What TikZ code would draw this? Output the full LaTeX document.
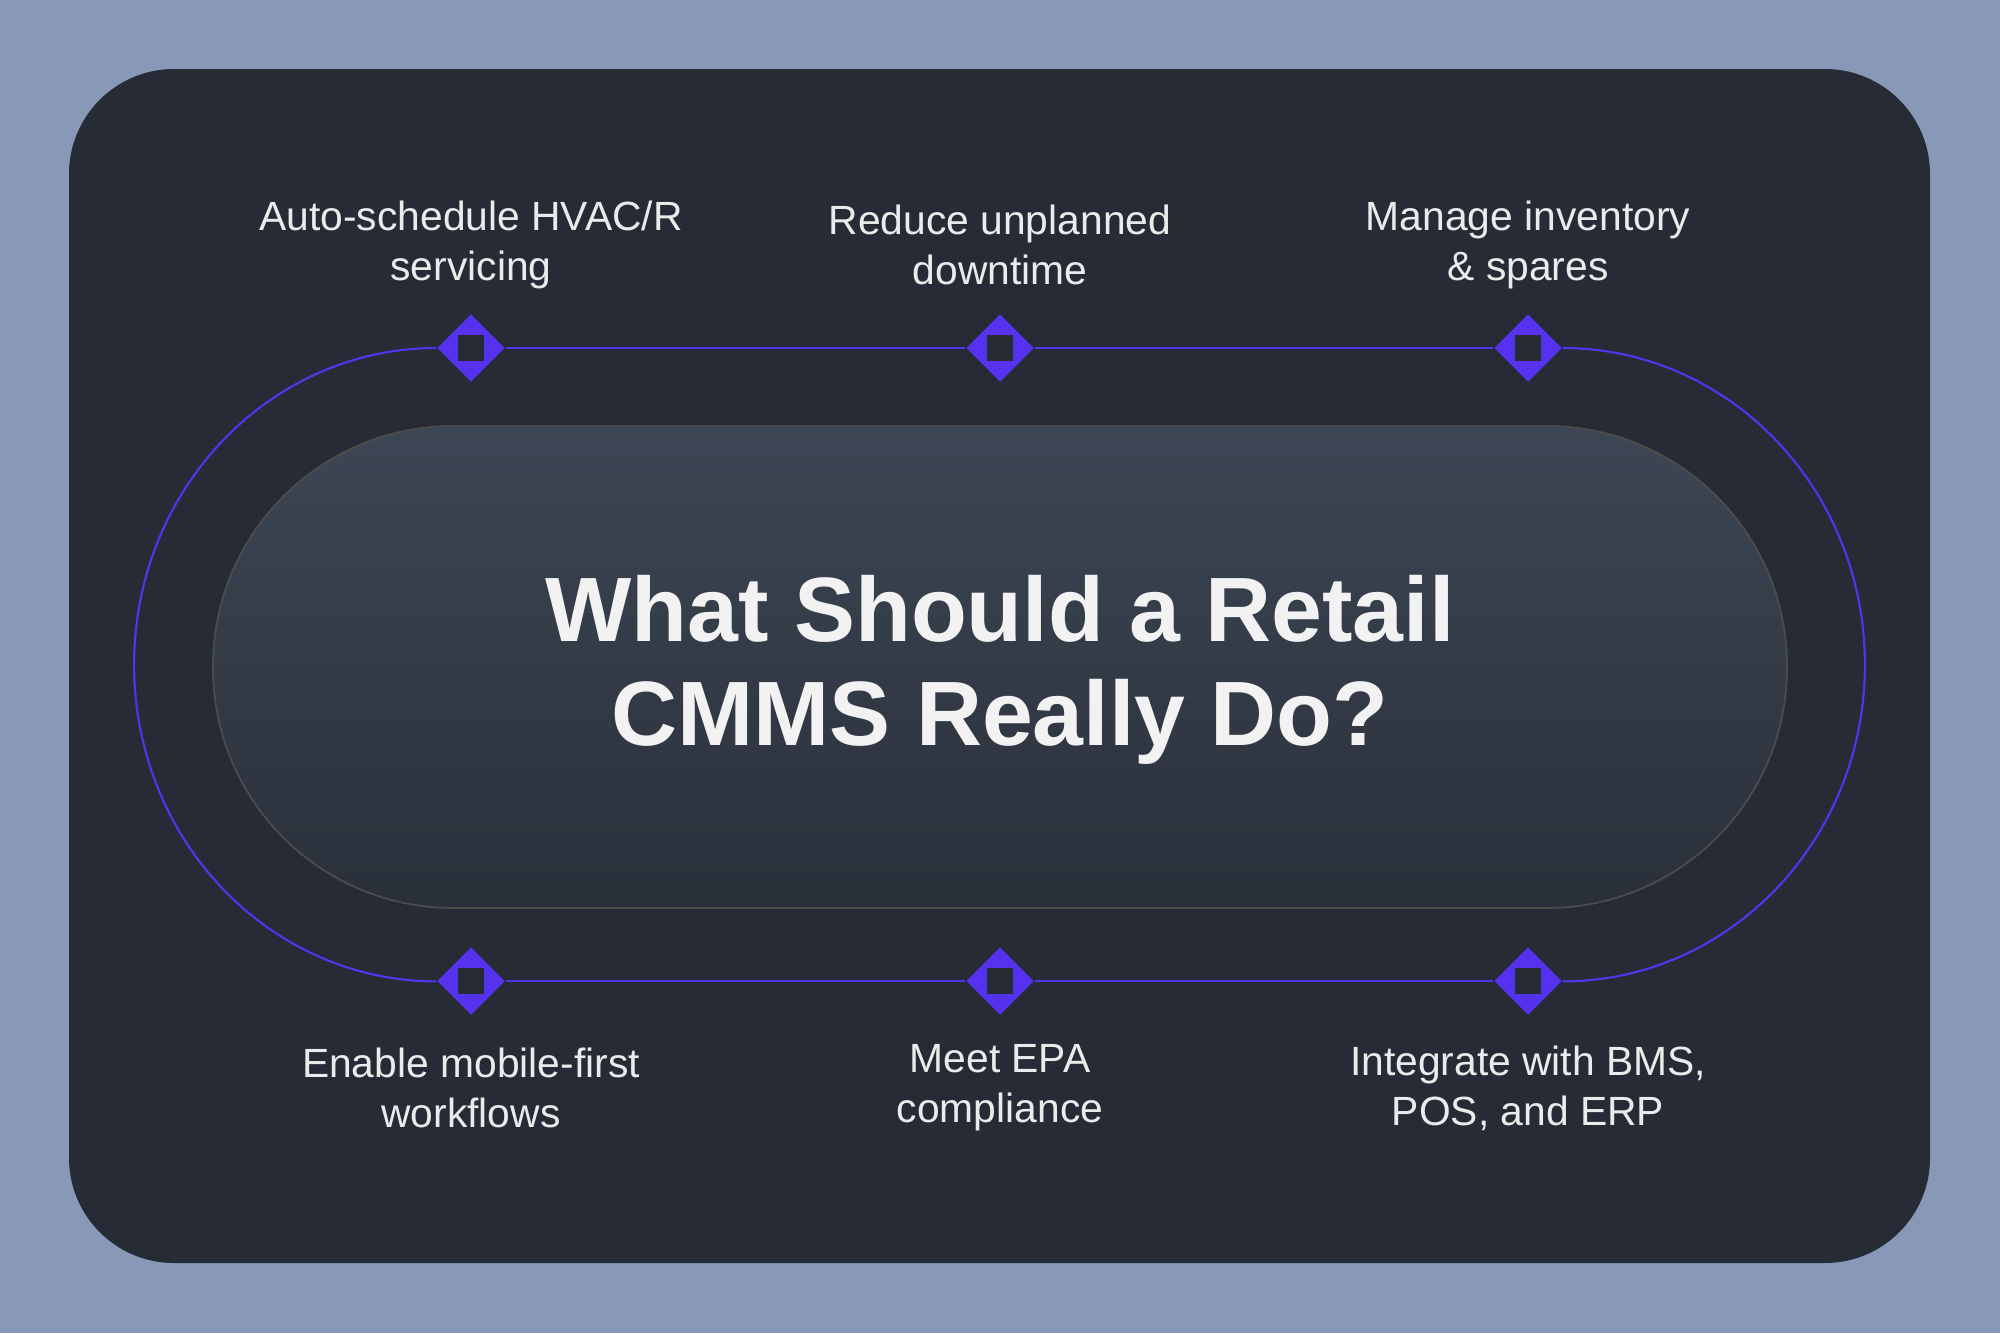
\documentclass[tikz,border=0pt]{standalone}
\usepackage{fontspec}
\setmainfont{Liberation Sans}
\usetikzlibrary{shapes.geometric}
\definecolor{bgc}{HTML}{8799B6}
\definecolor{card}{HTML}{262B35}
\definecolor{pur}{HTML}{5533EE}
\definecolor{pilltop}{HTML}{3D4654}
\definecolor{pillbot}{HTML}{2A303A}
\begin{document}
\begin{tikzpicture}[x=0.01cm,y=-0.01cm,
  dia/.style={diamond,fill=pur,inner sep=0,minimum width=0.68cm,minimum height=0.68cm},
  lab/.style={text=white!92!black,align=center,font=\fontsize{11.6}{14.2}\selectfont},
  trk/.style={pur,line width=0.6pt}]
\fill[bgc] (0,0) rectangle (2000,1333);
\useasboundingbox (0,0) rectangle (2000,1333);
\fill[card,rounded corners=1.05cm] (69,69) rectangle (1930,1263);
\shade[top color=pilltop,bottom color=pillbot,draw=gray!60!black,line width=0.5pt,rounded corners=2.4cm] (213,426) rectangle (1787,908);
\node[dia] (a) at (471,348) {};
\node[dia] (b) at (1000,348) {};
\node[dia] (c) at (1528,348) {};
\node[dia] (d) at (471,981) {};
\node[dia] (e) at (1000,981) {};
\node[dia] (f) at (1528,981) {};
\draw[trk] (a.east) -- (b.west) (b.east) -- (c.west) (d.east) -- (e.west) (e.east) -- (f.west);
\draw[trk] (a.west) arc[start angle=90,end angle=270,x radius=3.02cm,y radius=3.165cm];
\draw[trk] (c.east) arc[start angle=90,end angle=-90,x radius=3.02cm,y radius=3.165cm];
\foreach \n in {a,b,c,d,e,f}{\fill[card] ([xshift=-0.13cm,yshift=0.13cm]\n.center) rectangle ([xshift=0.13cm,yshift=-0.13cm]\n.center);}
\node[lab] (la) at (471,245) {Auto-schedule HVAC/R\\servicing};
\node[lab] (lb) at (1000,245) {Reduce unplanned\\downtime};
\node[lab] (lc) at (1528,245) {Manage inventory\\\& spares};
\node[lab] (ld) at (471,1088) {Enable mobile-first\\workflows};
\node[lab] (le) at (1000,1088) {Meet EPA\\compliance};
\node[lab] (lf) at (1528,1088) {Integrate with BMS,\\POS, and ERP};
\node[text=white!95!black,align=center,font=\bfseries\fontsize{26}{29.5}\selectfont] (t) at (1000,670) {What Should a Retail\\CMMS Really Do?};
\end{tikzpicture}
\end{document}
